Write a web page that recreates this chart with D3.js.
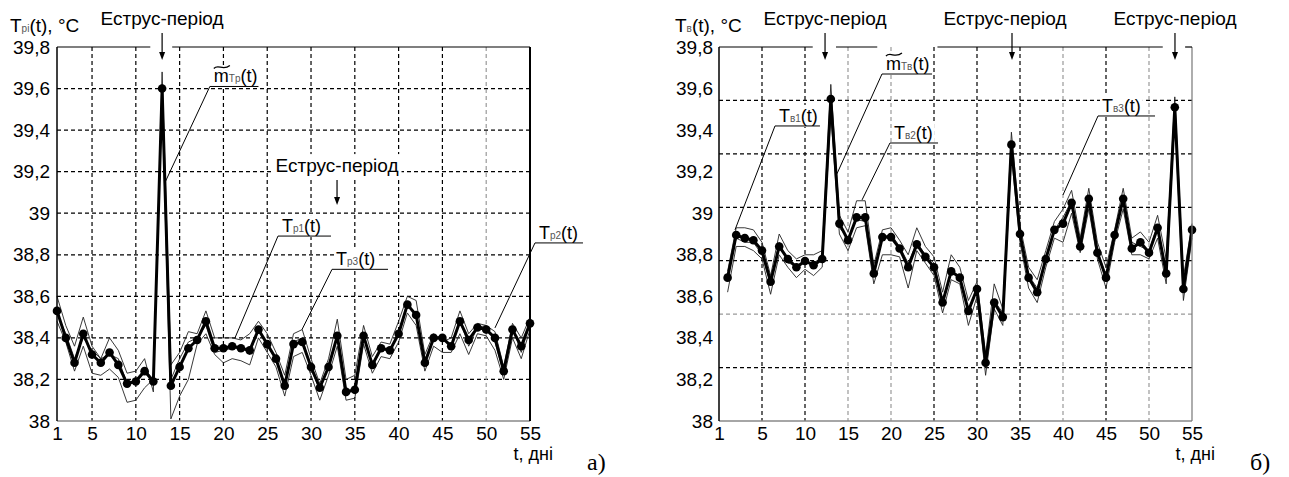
<!DOCTYPE html>
<html>
<head>
<meta charset="utf-8">
<script src="https://cdn.jsdelivr.net/npm/d3@7"></script>
<style>
body { margin: 0; background: #fff; }
text { font-family: "Liberation Sans", Arial, sans-serif; fill: #000; }
</style>
</head>
<body>
<svg id="chart" width="1289" height="477"></svg>
<script>
// ---- data ----
const days = d3.range(1, 56);
const yTicks = d3.range(0, 10).map(i => 38 + i * 0.2);
const xTicks = [1, 5, 10, 15, 20, 25, 30, 35, 40, 45, 50, 55];

// panel a) rectal temperature
const mTp = [38.53,38.40,38.28,38.42,38.32,38.28,38.33,38.27,38.18,38.19,
  38.24,38.19,39.60,38.17,38.26,38.35,38.39,38.48,38.35,38.35,
  38.36,38.35,38.34,38.44,38.37,38.30,38.17,38.37,38.38,38.26,
  38.16,38.26,38.41,38.14,38.15,38.41,38.27,38.35,38.34,38.42,
  38.56,38.51,38.28,38.40,38.40,38.36,38.48,38.39,38.45,38.44,
  38.40,38.24,38.44,38.36,38.47];
const Tp1 = [38.60,38.46,38.36,38.50,38.36,38.30,38.40,38.34,38.23,38.24,
  38.30,38.14,39.68,38.27,38.33,38.43,38.42,38.53,38.40,38.40,
  38.40,38.39,38.42,38.48,38.42,38.33,38.22,38.42,38.44,38.30,
  38.18,38.30,38.49,38.20,38.22,38.46,38.31,38.38,38.37,38.48,
  38.60,38.58,38.32,38.42,38.38,38.40,38.53,38.42,38.47,38.46,
  38.43,38.26,38.47,38.40,38.50];
const Tp2 = [38.48,38.38,38.24,38.36,38.23,38.22,38.25,38.21,38.09,38.10,
  38.16,38.20,39.55,38.01,38.12,38.20,38.37,38.42,38.32,38.28,
  38.30,38.29,38.27,38.40,38.33,38.26,38.12,38.31,38.33,38.22,
  38.10,38.22,38.36,38.10,38.11,38.37,38.23,38.31,38.30,38.38,
  38.52,38.46,38.24,38.36,38.33,38.33,38.42,38.32,38.42,38.41,
  38.34,38.20,38.40,38.30,38.44];
const Tp3 = [38.52,38.42,38.30,38.40,38.34,38.30,38.32,38.30,38.18,38.20,
  38.25,38.20,39.62,38.20,38.30,38.38,38.40,38.46,38.33,38.34,
  38.35,38.36,38.32,38.45,38.36,38.30,38.16,38.38,38.40,38.25,
  38.15,38.26,38.42,38.12,38.16,38.42,38.26,38.35,38.34,38.43,
  38.57,38.50,38.29,38.40,38.41,38.36,38.49,38.36,38.45,38.46,
  38.38,38.23,38.45,38.33,38.47];

// panel б) vaginal temperature
const mTv = [38.69,38.895,38.88,38.87,38.82,38.67,38.84,38.78,38.74,38.77,
  38.75,38.78,39.55,38.95,38.87,38.98,38.98,38.71,38.885,38.885,
  38.83,38.74,38.85,38.79,38.74,38.57,38.72,38.69,38.53,38.635,
  38.28,38.57,38.50,39.33,38.90,38.69,38.62,38.78,38.92,38.95,
  39.05,38.84,39.07,38.81,38.69,38.895,39.07,38.83,38.86,38.81,
  38.93,38.71,39.51,38.635,38.92];
const Tv1 = [38.72,38.93,38.93,38.92,38.86,38.70,38.90,38.82,38.78,38.80,
  38.80,38.82,39.62,38.99,38.91,39.06,39.06,38.75,38.92,38.93,
  38.87,38.80,38.93,38.84,38.79,38.62,38.80,38.74,38.58,38.67,
  38.32,38.66,38.54,39.39,38.94,38.74,38.68,38.82,38.96,39.02,
  39.11,38.88,39.12,38.86,38.74,38.92,39.12,38.88,38.91,38.86,
  38.99,38.78,39.56,38.69,38.95];
const Tv2 = [38.62,38.84,38.84,38.82,38.78,38.61,38.80,38.74,38.69,38.73,
  38.70,38.74,39.48,38.90,38.82,38.93,38.94,38.66,38.80,38.80,
  38.79,38.64,38.82,38.76,38.70,38.52,38.68,38.66,38.46,38.60,
  38.22,38.54,38.46,39.28,38.86,38.64,38.57,38.74,38.88,38.86,
  39.00,38.81,39.02,38.78,38.64,38.86,39.02,38.80,38.80,38.78,
  38.88,38.66,39.46,38.58,38.88];
const Tv3 = [38.70,38.88,38.86,38.86,38.80,38.66,38.86,38.76,38.75,38.76,
  38.76,38.79,39.52,38.93,38.88,38.97,38.96,38.72,38.88,38.90,
  38.84,38.76,38.86,38.80,38.76,38.58,38.72,38.70,38.52,38.64,
  38.30,38.58,38.52,39.32,38.90,38.70,38.64,38.78,38.92,38.98,
  39.06,38.86,39.06,38.82,38.70,38.90,39.06,38.86,38.84,38.82,
  38.94,38.72,39.50,38.64,38.92];

const estrusText = "Еструс-період";

const fmtTick = d => {
  const r = Math.round(d * 10) / 10;
  return Number.isInteger(r) ? String(r) : r.toFixed(1).replace(".", ",");
};

const svg = d3.select("#chart");

function panel(cfg) {
  const x = d3.scaleLinear().domain(cfg.xDomain).range(cfg.xRange);
  const y = d3.scaleLinear().domain([38, 39.8]).range([421, 47]);
  const [x0, x1] = x.range();
  const g = svg.append("g");

  // grid
  g.selectAll(".hgrid").data(cfg.hGrid).enter().append("line")
    .attr("x1", x0).attr("x2", x1)
    .attr("y1", d => y(d.v)).attr("y2", d => y(d.v))
    .attr("stroke", d => d.light ? "#999" : "#000")
    .attr("stroke-width", 1.2).attr("stroke-dasharray", "4,3");
  g.selectAll(".vgrid").data(cfg.vGrid).enter().append("line")
    .attr("x1", d => x(d.v)).attr("x2", d => x(d.v))
    .attr("y1", y(39.8)).attr("y2", y(38))
    .attr("stroke", d => d.light ? "#999" : "#000")
    .attr("stroke-width", 1.2).attr("stroke-dasharray", "4,3");

  const boxes = g.append("g");
  const dataG = g.append("g");
  const annG = g.append("g");

  // thin series
  const line = d3.line().x((d, i) => x(days[i])).y(d => y(d));
  cfg.thin.forEach(s => {
    dataG.append("path").datum(s)
      .attr("d", line).attr("fill", "none")
      .attr("stroke", "#222").attr("stroke-width", 0.9);
  });
  // mean series
  dataG.append("path").datum(cfg.mean)
    .attr("d", line).attr("fill", "none")
    .attr("stroke", "#000").attr("stroke-width", 3).attr("stroke-linejoin", "round");
  dataG.selectAll("circle").data(cfg.mean).enter().append("circle")
    .attr("cx", (d, i) => x(days[i])).attr("cy", d => y(d))
    .attr("r", 4.3).attr("fill", "#000");

  function addBox(node, pad) {
    const b = node.getBBox();
    boxes.append("rect")
      .attr("x", b.x - pad).attr("y", b.y - 1)
      .attr("width", b.width + 2 * pad).attr("height", b.height + 2)
      .attr("fill", "#fff");
  }

  // series labels with leader lines
  cfg.labels.forEach(a => {
    const ux1 = x(a.ul[0]), ux2 = x(a.ul[1]), uy = y(a.v);
    annG.append("path")
      .attr("d", `M${x(a.target[0])},${y(a.target[1])}L${ux1},${uy}H${ux2}`)
      .attr("fill", "none").attr("stroke", "#000").attr("stroke-width", 1);
    const tx = ux1 + 4, ty = uy - 4;
    const t = annG.append("text").attr("x", tx).attr("y", ty)
      .attr("font-size", 18);
    t.append("tspan").text(a.main);
    t.append("tspan").attr("font-size", 10).attr("fill", "#555").text(a.sub);
    t.append("tspan").text("(t)");
    if (a.tilde) {
      // wide tilde over the "m"
      const w = t.node().getSubStringLength(0, 1);
      annG.append("path")
        .attr("d", `M${tx},${ty - 14}C${tx + w * 0.3},${ty - 19} ${tx + w * 0.6},${ty - 11} ${tx + w + 1},${ty - 17}`)
        .attr("fill", "none").attr("stroke", "#000").attr("stroke-width", 1.3);
    }
    addBox(t.node(), 2);
  });

  // estrus arrows
  cfg.estrus.forEach(e => {
    const t = annG.append("text")
      .attr("x", x(e.textDay)).attr("y", y(e.textV))
      .attr("text-anchor", "middle").attr("font-size", 19)
      .text(estrusText);
    addBox(t.node(), 3);
    const ax = x(e.day), ya = y(e.arrow[0]), yb = y(e.arrow[1]);
    annG.append("line").attr("x1", ax).attr("x2", ax)
      .attr("y1", ya).attr("y2", yb - 6)
      .attr("stroke", "#000").attr("stroke-width", 1.2);
    annG.append("path")
      .attr("d", `M${ax - 3},${yb - 8}L${ax + 3},${yb - 8}L${ax},${yb}Z`)
      .attr("fill", "#000");
    boxes.append("rect").attr("x", ax - 5).attr("y", ya).attr("width", 10)
      .attr("height", yb - ya).attr("fill", "#fff");
  });

  // axes (labels only)
  const yAxis = d3.axisLeft(y).tickValues(yTicks).tickSize(0).tickPadding(cfg.yPad)
    .tickFormat(fmtTick);
  const ya = g.append("g").attr("transform", `translate(${x0},0)`).call(yAxis);
  ya.select(".domain").remove();
  ya.selectAll("text").attr("font-size", 19)
    .attr("font-family", "Liberation Sans, Arial, sans-serif");

  const xAxis = d3.axisBottom(x).tickValues(cfg.xTickVals).tickSize(0).tickPadding(6)
    .tickFormat(cfg.xFormat);
  const xa = g.append("g").attr("transform", `translate(0,${y(38)})`).call(xAxis);
  xa.select(".domain").remove();
  xa.selectAll("text").attr("font-size", 19)
    .attr("font-family", "Liberation Sans, Arial, sans-serif");

  // frame
  g.append("line").attr("x1", x0).attr("x2", x1).attr("y1", y(38)).attr("y2", y(38))
    .attr("stroke", "#888").attr("stroke-width", 1.5);
  g.append("line").attr("x1", x0).attr("x2", x0).attr("y1", y(38)).attr("y2", y(39.8))
    .attr("stroke", "#000").attr("stroke-width", 1.5);
  g.append("line").attr("x1", x1).attr("x2", x1).attr("y1", y(38)).attr("y2", y(39.8))
    .attr("stroke", cfg.rightColor).attr("stroke-width", cfg.rightWidth);
  // top border with gaps
  const edges = [cfg.xDomain[0]].concat(cfg.topGaps.flat(), [cfg.xDomain[1]]);
  for (let i = 0; i < edges.length; i += 2) {
    g.append("line").attr("x1", x(edges[i])).attr("x2", x(edges[i + 1]))
      .attr("y1", y(39.8)).attr("y2", y(39.8))
      .attr("stroke", "#000").attr("stroke-width", 1.2);
  }

  // axis titles
  const yt = g.append("text").attr("x", cfg.yTitleX).attr("y", 32).attr("font-size", 19);
  yt.append("tspan").text("T");
  yt.append("tspan").attr("font-size", 10).attr("fill", "#555").text(cfg.ySub);
  yt.append("tspan").text("(t), °C");
  g.append("text").attr("x", x1 + 23).attr("y", 460).attr("text-anchor", "end")
    .attr("font-size", 18).text("t, дні");
  g.append("text").attr("x", cfg.panelX).attr("y", 470).attr("font-size", 24)
    .style("font-family", "Liberation Serif, Times New Roman, serif").text(cfg.panel);
}

panel({
  xDomain: [1, 55], xRange: [57, 530],
  xTickVals: xTicks, xFormat: d => d,
  hGrid: yTicks.slice(1, 9).map(v => ({v})),
  vGrid: [5, 10, 15, 20, 25, 30, 35, 40, 45, 50].map(v => ({v, light: v === 50})),
  mean: mTp, thin: [Tp1, Tp2, Tp3],
  labels: [
    {main: "m", tilde: true, sub: "Tр", ul: [18.45, 24.0], v: 39.61, target: [13.35, 39.15]},
    {main: "T", sub: "р1", ul: [26.23, 32.28], v: 38.89, target: [21.32, 38.40]},
    {main: "T", sub: "р3", ul: [32.4, 38.79], v: 38.73, target: [28.97, 38.44]},
    {main: "T", sub: "р2", ul: [55.57, 61.05], v: 38.857, target: [51.0, 38.448]}
  ],
  estrus: [
    {day: 13, textDay: 13, textV: 39.906, arrow: [39.867, 39.737]},
    {day: 32.97, textDay: 32.97, textV: 39.198, arrow: [39.16, 39.039]}
  ],
  topGaps: [[11.65, 14.15]],
  yPad: 7, rightColor: "#000", rightWidth: 2,
  ySub: "рі", yTitleX: 10, panel: "а)", panelX: 587
});

panel({
  xDomain: [0, 55], xRange: [719, 1192],
  xTickVals: [0].concat(xTicks.slice(1)), xFormat: d => d === 0 ? "1" : d,
  hGrid: d3.range(1, 7).map(i => ({v: 38 + i * 1.8 / 7, light: i === 2})),
  vGrid: [5, 10, 15, 20, 25, 30, 35, 40, 45, 50].map(v => ({v, light: [15, 20, 40, 50].includes(v)})),
  mean: mTv, thin: [Tv1, Tv2, Tv3],
  labels: [
    {main: "m", tilde: true, sub: "Tв", ul: [18.95, 24.77], v: 39.67, target: [13.72, 39.19]},
    {main: "T", sub: "в1", ul: [6.51, 11.74], v: 39.42, target: [1.86, 38.92]},
    {main: "T", sub: "в2", ul: [19.88, 25.47], v: 39.338, target: [16.63, 39.064]},
    {main: "T", sub: "в3", ul: [44.07, 50.7], v: 39.468, target: [40.0, 39.088]}
  ],
  estrus: [
    {day: 12.33, textDay: 12.33, textV: 39.906, arrow: [39.867, 39.737]},
    {day: 34.07, textDay: 33.26, textV: 39.906, arrow: [39.867, 39.737]},
    {day: 53.02, textDay: 53.02, textV: 39.906, arrow: [39.867, 39.737]}
  ],
  topGaps: [[10.9, 13.6], [18.4, 25.4], [51.6, 54.2]],
  yPad: 6, rightColor: "#777", rightWidth: 1.2,
  ySub: "в", yTitleX: 675, panel: "б)", panelX: 1250
});
</script>
</body>
</html>
